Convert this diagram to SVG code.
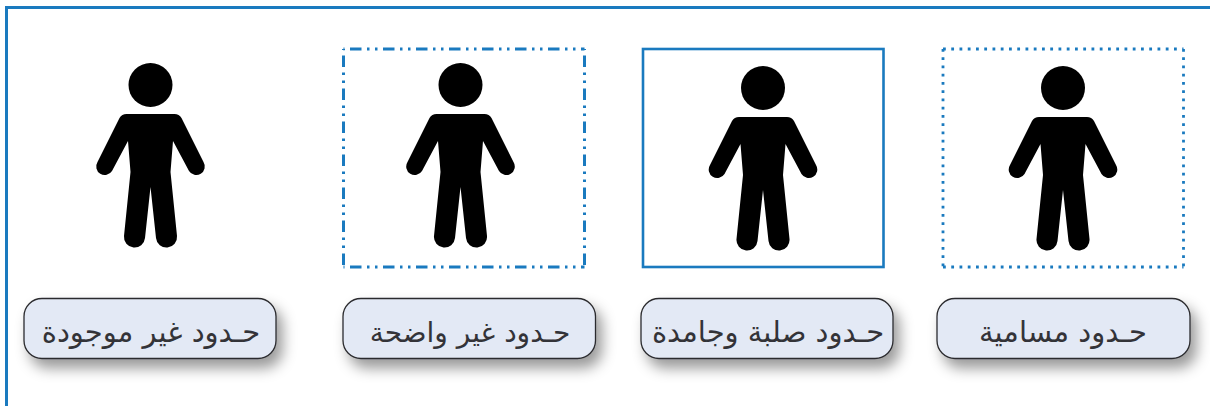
<svg xmlns="http://www.w3.org/2000/svg" width="1210" height="406" viewBox="0 0 1210 406">
<style>
.frame{fill:none;stroke:#1a7abf;stroke-width:3}
.bound{fill:none;stroke:#1a7abf;stroke-width:2.6}
.dashdot{stroke-width:3;stroke-dasharray:11.5 5.5 2.5 5.5 2.5 5.5;stroke-dashoffset:26.5}
.dotted{stroke-width:2.8;stroke-dasharray:2.8 5.45}
.pill{fill:#e3e9f5;stroke:#2b2b2e;stroke-width:1.3;filter:url(#sh)}
.lbl{font-family:"DejaVu Sans",sans-serif;font-size:29px;fill:#333338;text-anchor:middle;direction:rtl}
</style>
<defs>
<filter id="sh" x="-15%" y="-30%" width="135%" height="200%">
<feDropShadow dx="6" dy="9" stdDeviation="7" flood-color="#000" flood-opacity="0.4"/>
</filter>
<g id="person">
<circle cx="0" cy="-29" r="22"/>
<path d="M-24 0H24C27 0 29.500 1.500 31 4L53 48A8.500 8.500 0 0 1 38.500 57L22.500 27L20 58L26.500 122A10.500 10.500 0 0 1 5.500 124L0 73L-5.500 124A10.500 10.500 0 0 1 -26.500 122L-20 58L-22.500 27L-38.500 57A8.500 8.500 0 0 1 -53 48L-31 4C-29.500 1.500 -27 0 -24 0Z" fill="#000"/>
</g>
</defs>
<rect width="1210" height="406" fill="#fff"/>
<path class="frame" d="M6.500 406V7.500H1210"/>
<g id="node-none">
<use href="#person" x="150.500" y="114"/>
<rect class="pill" x="24" y="298.500" width="252" height="60" rx="18"/>
<text class="lbl" x="151" y="342">حـدود غير موجودة</text>
</g>
<g id="node-unclear">
<path class="bound dashdot" d="M343.500 49H584.500M584.500 49V267M343.500 49V267M343.500 267H584.500"/>
<use href="#person" x="460.500" y="114"/>
<rect class="pill" x="343" y="298.500" width="252.500" height="60" rx="18"/>
<text class="lbl" x="470" y="342" style="font-size:28px">حـدود غير واضحة</text>
</g>
<g id="node-rigid">
<rect class="bound" x="643" y="49" width="240.500" height="218"/>
<use href="#person" x="763" y="117"/>
<rect class="pill" x="641" y="298.500" width="252" height="60" rx="18"/>
<text class="lbl" x="768" y="342">حـدود صلبة وجامدة</text>
</g>
<g id="node-permeable">
<path class="bound dotted" d="M943 49H1183.500M1183.500 49V267M943 49V267M943 267H1183.500"/>
<use href="#person" x="1063" y="117"/>
<rect class="pill" x="937" y="298.500" width="253" height="60" rx="18"/>
<text class="lbl" x="1063" y="342">حـدود مسامية</text>
</g>
<g id="connectors"/>
</svg>
